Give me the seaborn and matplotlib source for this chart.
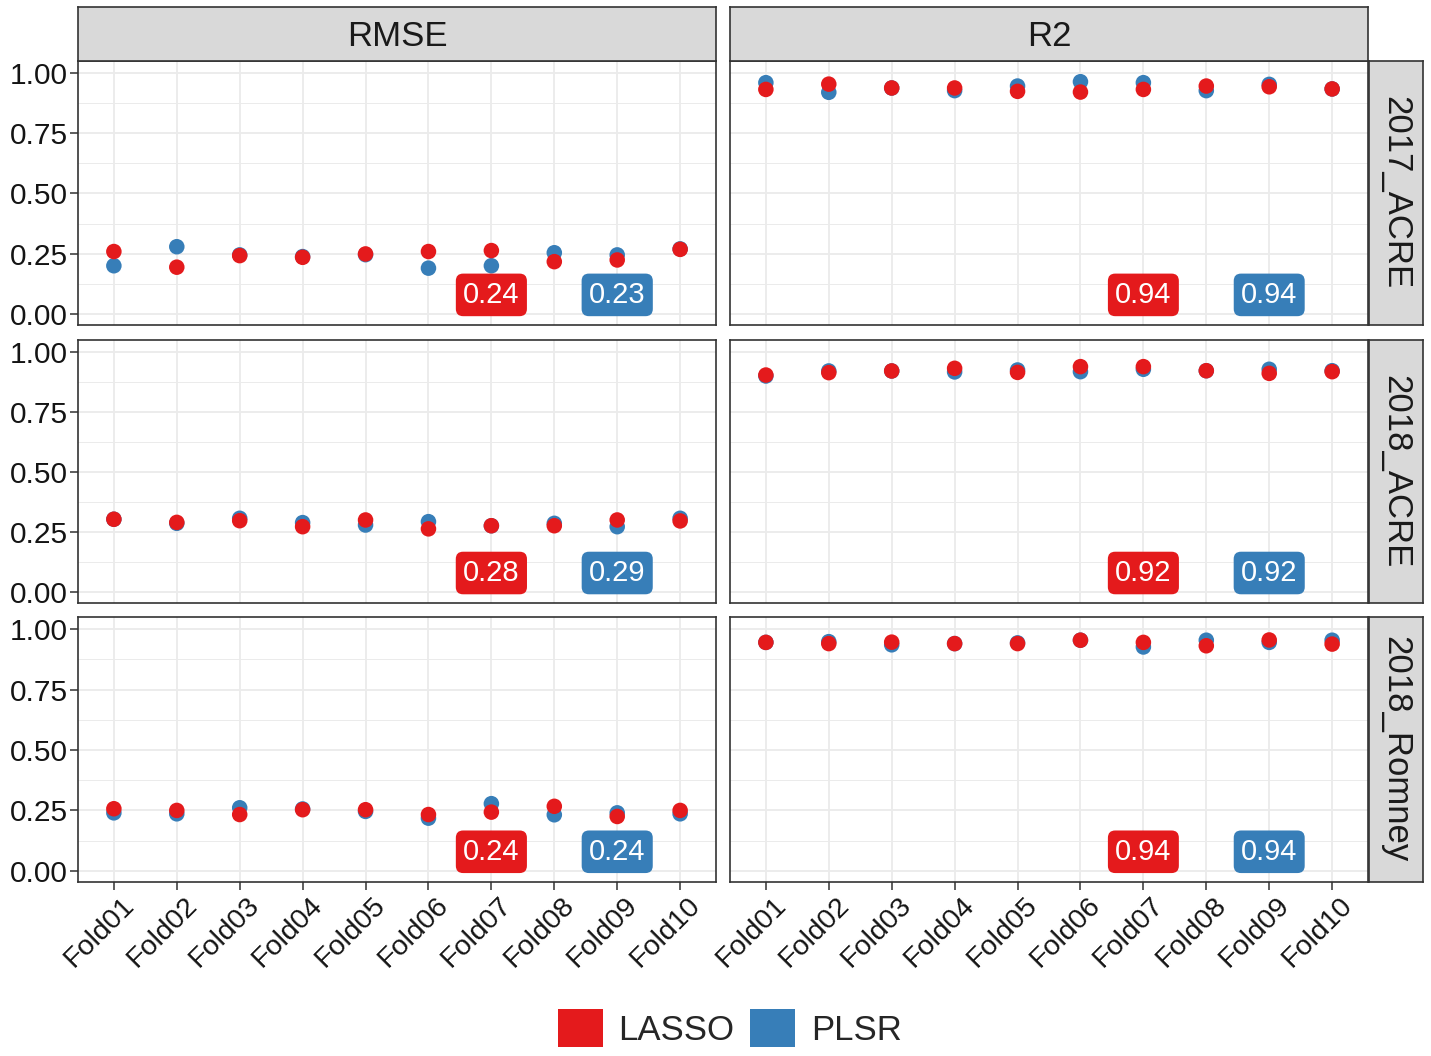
import numpy as np
import pandas as pd
import matplotlib
matplotlib.use("Agg")
import matplotlib.pyplot as plt
import matplotlib.transforms as mtransforms
from matplotlib.patches import Patch
import seaborn as sns

# =========================
# DATA
# =========================
folds = ["Fold01", "Fold02", "Fold03", "Fold04", "Fold05",
         "Fold06", "Fold07", "Fold08", "Fold09", "Fold10"]
sites = ["2017_ACRE", "2018_ACRE", "2018_Romney"]
metrics = ["RMSE", "R2"]
models = ["LASSO", "PLSR"]

lasso_rmse_2017a = [0.259, 0.194, 0.242, 0.235, 0.249, 0.259, 0.263, 0.217, 0.224, 0.268]
plsr_rmse_2017a = [0.200, 0.279, 0.245, 0.238, 0.246, 0.190, 0.200, 0.254, 0.245, 0.270]
lasso_r2_2017a = [0.932, 0.954, 0.938, 0.938, 0.924, 0.921, 0.932, 0.946, 0.943, 0.934]
plsr_r2_2017a = [0.960, 0.920, 0.938, 0.927, 0.946, 0.964, 0.960, 0.927, 0.953, 0.934]

lasso_rmse_2018a = [0.303, 0.290, 0.297, 0.272, 0.300, 0.263, 0.276, 0.276, 0.300, 0.296]
plsr_rmse_2018a = [0.303, 0.286, 0.307, 0.289, 0.279, 0.293, 0.276, 0.286, 0.272, 0.307]
lasso_r2_2018a = [0.904, 0.914, 0.921, 0.932, 0.915, 0.939, 0.939, 0.922, 0.911, 0.918]
plsr_r2_2018a = [0.900, 0.921, 0.921, 0.917, 0.925, 0.918, 0.928, 0.922, 0.928, 0.922]

lasso_rmse_2018r = [0.257, 0.250, 0.233, 0.253, 0.253, 0.233, 0.243, 0.267, 0.225, 0.250]
plsr_rmse_2018r = [0.240, 0.236, 0.261, 0.256, 0.246, 0.218, 0.278, 0.232, 0.240, 0.236]
lasso_r2_2018r = [0.945, 0.940, 0.946, 0.940, 0.940, 0.954, 0.945, 0.931, 0.955, 0.938]
plsr_r2_2018r = [0.945, 0.948, 0.935, 0.940, 0.943, 0.954, 0.926, 0.954, 0.945, 0.954]

# summary labels (metric -> one per site)
lasso_labels = {"RMSE": ["0.24", "0.28", "0.24"], "R2": ["0.94", "0.92", "0.94"]}
plsr_labels = {"RMSE": ["0.23", "0.29", "0.24"], "R2": ["0.94", "0.92", "0.94"]}

series = {
    ("2017_ACRE", "RMSE"): (lasso_rmse_2017a, plsr_rmse_2017a),
    ("2017_ACRE", "R2"): (lasso_r2_2017a, plsr_r2_2017a),
    ("2018_ACRE", "RMSE"): (lasso_rmse_2018a, plsr_rmse_2018a),
    ("2018_ACRE", "R2"): (lasso_r2_2018a, plsr_r2_2018a),
    ("2018_Romney", "RMSE"): (lasso_rmse_2018r, plsr_rmse_2018r),
    ("2018_Romney", "R2"): (lasso_r2_2018r, plsr_r2_2018r),
}

rows = []
for (site, metric), (lasso_vals, plsr_vals) in series.items():
    # PLSR first so LASSO is drawn on top
    for f, v in zip(folds, plsr_vals):
        rows.append({"Site": site, "Metric": metric, "Fold": f, "Model": "PLSR", "value": v})
    for f, v in zip(folds, lasso_vals):
        rows.append({"Site": site, "Metric": metric, "Fold": f, "Model": "LASSO", "value": v})
df = pd.DataFrame(rows)

# =========================
# STYLE
# =========================
palette = {"LASSO": "#E41A1C", "PLSR": "#377EB8"}
sns.set_style("white")
plt.rcParams["font.family"] = ["Liberation Sans", "DejaVu Sans"]
dark = "#333333"

W, H = 1431, 1056
fig = plt.figure(figsize=(W / 100, H / 100), dpi=100)

col_x = [(78, 716), (730, 1368)]
row_y = [(61, 325), (340, 603), (617, 882)]


def fig_rect(x0, x1, y0, y1):
    return [x0 / W, 1 - y1 / H, (x1 - x0) / W, (y1 - y0) / H]


shift = mtransforms.ScaledTranslation(7 / 100, 0, fig.dpi_scale_trans)

for i, site in enumerate(sites):
    for j, metric in enumerate(metrics):
        ax = fig.add_axes(fig_rect(col_x[j][0], col_x[j][1], row_y[i][0], row_y[i][1]))
        sub = df[(df["Site"] == site) & (df["Metric"] == metric)]
        sns.scatterplot(
            data=sub, x="Fold", y="value", hue="Model", palette=palette,
            s=125, linewidth=0, alpha=1, legend=False, ax=ax, zorder=3
        )
        ax.set_xlim(-0.57, 9.57)
        ax.set_ylim(-0.046, 1.05)
        ax.set_yticks([0, 0.25, 0.5, 0.75, 1.0])
        ax.set_yticks([0.125, 0.375, 0.625, 0.875], minor=True)
        ax.grid(True, which="major", color="#EBEBEB", linewidth=1.3, zorder=0)
        ax.grid(True, which="minor", axis="y", color="#EBEBEB", linewidth=0.7, zorder=0)
        ax.set_axisbelow(True)
        for sp in ax.spines.values():
            sp.set_color(dark)
            sp.set_linewidth(1.2)
            sp.set_visible(True)
        ax.set_xlabel("")
        ax.set_ylabel("")
        ax.tick_params(which="minor", length=0)
        ax.tick_params(which="major", length=5.5, width=1.1, color=dark,
                       labelsize=21.5, labelcolor="#141414", pad=2)
        if j == 0:
            ax.set_yticklabels(["0.00", "0.25", "0.50", "0.75", "1.00"])
            ax.tick_params(axis="y", left=True)
        else:
            ax.tick_params(axis="y", left=False, labelleft=False)
        if i == len(sites) - 1:
            ax.tick_params(axis="x", bottom=True, labelsize=20.5)
            for lab in ax.get_xticklabels():
                lab.set_rotation(45)
                lab.set_ha("right")
                lab.set_va("top")
                lab.set_rotation_mode("anchor")
                lab.set_transform(lab.get_transform() + shift)
        else:
            ax.tick_params(axis="x", bottom=False, labelbottom=False)

        # summary labels
        ax.text(6, 0.079, lasso_labels[metric][i], color="white", fontsize=21,
                ha="center", va="center", zorder=5,
                bbox=dict(boxstyle="round,pad=0.25,rounding_size=0.25",
                          fc=palette["LASSO"], ec="none"))
        ax.text(8, 0.079, plsr_labels[metric][i], color="white", fontsize=21,
                ha="center", va="center", zorder=5,
                bbox=dict(boxstyle="round,pad=0.25,rounding_size=0.25",
                          fc=palette["PLSR"], ec="none"))

# strips on top
for j, metric in enumerate(metrics):
    sax = fig.add_axes(fig_rect(col_x[j][0], col_x[j][1], 7, 61))
    sax.set_facecolor("#D9D9D9")
    sax.set_xticks([])
    sax.set_yticks([])
    for sp in sax.spines.values():
        sp.set_color(dark)
        sp.set_linewidth(1.2)
    sax.text(0.5, 0.46, metric, ha="center", va="center", fontsize=25,
             color="#1A1A1A", transform=sax.transAxes)

# strips on right
for i, site in enumerate(sites):
    sax = fig.add_axes(fig_rect(1369, 1423, row_y[i][0], row_y[i][1]))
    sax.set_facecolor("#D9D9D9")
    sax.set_xticks([])
    sax.set_yticks([])
    for sp in sax.spines.values():
        sp.set_color(dark)
        sp.set_linewidth(1.2)
    sax.text(0.5, 0.5, site, ha="center", va="center", fontsize=25,
             color="#1A1A1A", rotation=-90, transform=sax.transAxes)

# legend
handles = [Patch(facecolor=palette[m], edgecolor="none", label=m) for m in models]
fig.legend(handles=handles, loc="center", bbox_to_anchor=(0.51, 1 - 1028 / H),
           ncol=2, frameon=False, fontsize=25, handlelength=1.3, handleheight=1.3,
           handletextpad=0.45, columnspacing=0.45)

fig.savefig("out.png", dpi=100)
print("saved")
